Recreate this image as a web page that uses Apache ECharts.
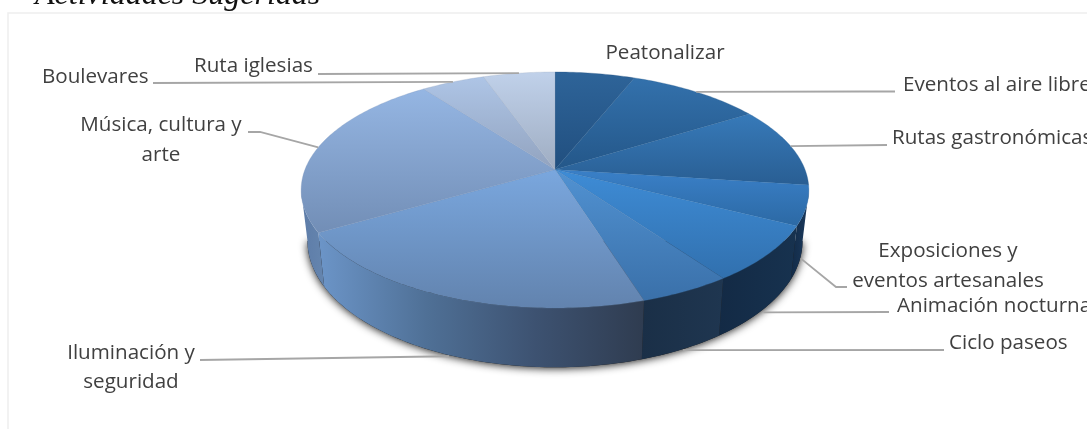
<!DOCTYPE html>
<html><head><meta charset="utf-8">
<style>html,body{margin:0;padding:0;background:#fff;overflow:hidden}#c{width:1087px;height:429px}</style>
<script src="https://cdn.jsdelivr.net/npm/echarts@6/dist/echarts.min.js"></script>
</head><body><div id="c"></div>
<script>
// ---- data ----
const categories = ['Peatonalizar','Eventos al aire libre','Rutas gastronómicas','Exposiciones y eventos artesanales','Animación nocturna','Ciclo paseos','Iluminación y seguridad','Música, cultura y arte','Boulevares','Ruta iglesias'];
const values = [6.0,10.1,11.0,5.4,7.7,5.0,21.4,23.2,4.8,5.4];
const chartTitle = 'Actividades Sugeridas';

// ---- styles ----
const topColors = [['#2e6499','#214f7f'],['#3371ac','#245789'],['#377ab9','#295e93'],['#3a80c8','#2c69a4'],['#3e8cd6','#3170ae'],['#5192d2','#3a70a9'],['#7aa7de','#6283ae'],['#95b6e3','#728eb6'],['#aec5e6','#92a3bf'],['#c0d1ea','#9fadc2']];
const sideColors = [['#15304f','#15304f'],['#15304f','#15304f'],['#15304f','#15304f'],['#122a46','#1b3a5e'],['#132a45','#17324f'],['#1a2f47','#1f3650'],['#6c95c8','#4f7096','#3d5271','#2f3c50'],['#5d7ca8','#6585ae'],['#15304f','#15304f'],['#15304f','#15304f']];
const grey = '#404040', lineGrey = '#a6a6a6';
const font = '20.6px "Open Sans"';

// perspective disc
const CX = 555, APEX = 169.5, K = 0.1737, A = 250, B = -85, FRONT = [100, 260];
function rim(deg) {
  const r = deg * Math.PI / 180, u = Math.sin(r), v = Math.cos(r), w = 1 + K * v;
  return [CX + A * u / w, (B * v + APEX) / w];
}
const depthAt = y => 54 + (y - 233) * 0.07;
function low(deg) {
  const p = rim(deg);
  return [CX + (p[0] - CX) * 0.975, p[1] + depthAt(p[1])];
}
const total = values.reduce((a, b) => a + b, 0);
const starts = [];
values.reduce((acc, v, i) => { starts[i] = acc; return acc + v; }, 0);
const ang = i => [starts[i] / total * 360, (starts[i] + values[i]) / total * 360];
function arc(a, b, f) { const pts = []; const n = Math.max(2, Math.ceil(Math.abs(b - a))); for (let i = 0; i <= n; i++) pts.push(f(a + (b - a) * i / n)); return pts; }
const stops = c => c.map((col, i) => ({offset: i / (c.length - 1), color: col}));
const vgrad = c => new echarts.graphic.LinearGradient(0, 0, 0, 1, stops(c));
const hgrad = c => new echarts.graphic.LinearGradient(0, 0, 1, 0, stops(c));

// label layout: text lines, and leader route after the anchor on the slice
const labelLayout = {
  'Peatonalizar': {lines:[[665,53,'center','Peatonalizar']], route:null},
  'Eventos al aire libre': {lines:[[903,85,'left','Eventos al aire libre']], route:[[860,91.5],[895,91.5]]},
  'Rutas gastronómicas': {lines:[[892,138,'left','Rutas gastronómicas']], route:[[887,145]]},
  'Exposiciones y eventos artesanales': {lines:[[948,251,'center','Exposiciones y'],[948,281,'center','eventos artesanales']], route:[[836,287],[847,287]], side:true, dx:-6},
  'Animación nocturna': {lines:[[897,306,'left','Animación nocturna']], route:[[889,312]], side:true, dx:-5, dy:2},
  'Ciclo paseos': {lines:[[949,343,'left','Ciclo paseos']], route:[[944,350]], side:true, dx:-3},
  'Iluminación y seguridad': {lines:[[131,353,'center','Iluminación y'],[131,382,'center','seguridad']], route:[[200,360]], side:true, dx:2},
  'Música, cultura y arte': {lines:[[161,125,'center','Música, cultura y'],[161,155,'center','arte']], route:[[260,132],[248,132]]},
  'Boulevares': {lines:[[42,77,'left','Boulevares']], route:[[153,83]]},
  'Ruta iglesias': {lines:[[194,66,'left','Ruta iglesias']], route:[[318,74]]}
};

function renderShadow() {
  return {type:'polygon', shape:{points:arc(FRONT[0], FRONT[1], low)}, style:{fill:'#1a1a1a', shadowBlur:8, shadowColor:'rgba(0,0,0,0.9)', shadowOffsetY:1}};
}
function renderSlice(params) {
  const i = params.dataIndex, [a, b] = ang(i), ch = [];
  const s = Math.max(a, FRONT[0]), e = Math.min(b, FRONT[1]);
  if (e > s) {
    const pts = arc(s, e, rim).concat(arc(s, e, low).reverse());
    ch.push({type:'polygon', shape:{points:pts}, style:{fill:hgrad(sideColors[i])}});
  }
  const c = topColors[i];
  ch.push({type:'polygon', shape:{points:[[CX, APEX]].concat(arc(a, b, rim))}, style:{fill:vgrad(c), stroke:c[1], lineWidth:0.3}});
  return {type:'group', children:ch};
}
function renderLabel(params) {
  const i = params.dataIndex, name = categories[i], lay = labelLayout[name], ch = [];
  const mid = (ang(i)[0] + ang(i)[1]) / 2;
  if (lay.route) {
    let p = rim(mid);
    if (lay.side) { p = [p[0] + (lay.dx || 0), p[1] + depthAt(p[1]) + 1 + (lay.dy || 0)]; }
    ch.push({type:'polyline', shape:{points:[p].concat(lay.route)}, style:{fill:null, stroke:lineGrey, lineWidth:1.8}});
  }
  lay.lines.forEach(l => ch.push({type:'text', style:{x:l[0], y:l[1], text:l[3], fill:grey, font:font, textAlign:l[2], textVerticalAlign:'middle'}}));
  return {type:'group', children:ch};
}

const chart = echarts.init(document.getElementById('c'), null, {renderer:'canvas'});
chart.setOption({
  animation:false,
  backgroundColor:'#ffffff',
  graphic:[
    {type:'rect', z:0, shape:{x:8,y:13,width:1200,height:600}, style:{fill:'#fff', stroke:'#eeeeee', lineWidth:1.5}},
    {type:'text', z:0, style:{x:35,y:-4,text:chartTitle,fill:'#111',font:'italic 32px "Liberation Serif"',textVerticalAlign:'middle'}}
  ],
  series:[
    {type:'custom', coordinateSystem:'none', z:2, silent:true, data:[0], renderItem:renderShadow},
    {type:'custom', coordinateSystem:'none', z:3, silent:true, data:values.map((v,i)=>({name:categories[i], value:v})), renderItem:renderSlice},
    {type:'custom', coordinateSystem:'none', z:4, silent:true, data:values.map((v,i)=>({name:categories[i], value:v})), renderItem:renderLabel}
  ]
});
</script></body></html>
